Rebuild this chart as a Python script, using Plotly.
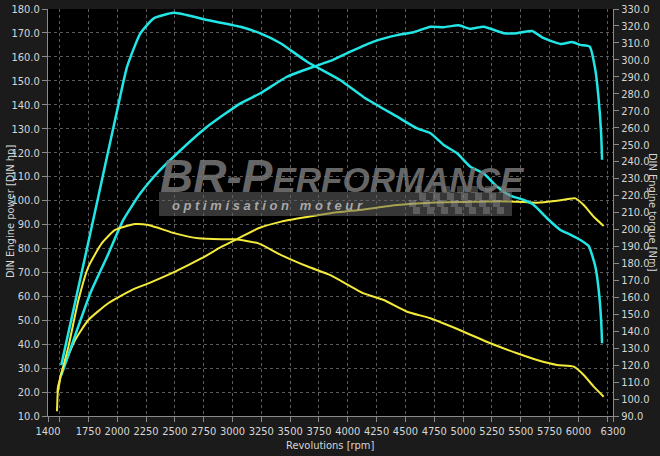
import plotly.graph_objects as go

# ---------------- data ----------------
tuned_torque_rpm = [1515, 1768, 1912, 1999, 2086, 2201, 2317, 2490, 2600, 2780, 3069, 3242, 3416, 3647,
                    3936, 4138, 4428, 4601, 4717, 4832, 4948, 5063, 5179, 5295, 5410, 5526, 5613,
                    5728, 5844, 5930, 6017, 6089, 6147, 6176, 6197, 6205]
tuned_torque_nm = [120, 198, 243, 270, 296, 315.6, 324.5, 327.8, 326.5, 323.5, 319.5, 315.6, 309.8, 298.9,
                   288, 278, 266.5, 259.6, 256.7, 249.8, 244.9, 237, 233, 225.2, 220, 217.4, 214.4,
                   206.6, 199.7, 197, 193.8, 190.2, 178, 164.3, 146.6, 132.9]

tuned_power_rpm = [1515, 1768, 1912, 2053, 2201, 2346, 2490, 2780, 3069, 3242, 3473, 3704, 3849, 4022,
                   4224, 4428, 4571, 4717, 4832, 4962, 5063, 5179, 5353, 5468, 5598, 5699, 5844,
                   5945, 6017, 6098, 6147, 6176, 6197, 6205]
tuned_power_hp = [27, 61.4, 76.5, 91.9, 103, 111.4, 118.3, 130.8, 140.6, 144.8, 151.7, 155.9, 158.3, 162.2,
                  166.4, 169.1, 170.3, 172.6, 172.4, 173.2, 171.7, 172.6, 169.9, 169.9, 170.8, 167.8, 165.4,
                  166.2, 165, 164.3, 154.5, 142, 128.1, 117]

stock_torque_rpm = [1482, 1487, 1577, 1664, 1750, 1866, 1982, 2155, 2271, 2502, 2704, 2906, 3022, 3225,
                    3423, 3658, 3849, 4138, 4311, 4514, 4716, 5005, 5237, 5468, 5642, 5815, 5960,
                    6046, 6133, 6219]
stock_torque_nm = [104, 107.3, 130.9, 158.4, 178, 191.8, 199.7, 203.2, 202.6, 197.7, 194.8, 194.2, 194.2, 191.8,
                   184.9, 178, 173.1, 162.3, 158.4, 151.5, 147.6, 139.7, 132.9, 127, 123, 120.1, 119.1,
                   114.2, 107.3, 101.4]

stock_power_rpm = [1478, 1485, 1500, 1515, 1635, 1750, 1923, 2126, 2271, 2502, 2733, 2906, 3051, 3225,
                   3423, 3658, 3849, 4138, 4428, 4717, 5005, 5295, 5526, 5642, 5815, 5974, 6046,
                   6133, 6219]
stock_power_hp = [12, 20, 24, 27.8, 41.7, 50.1, 57.1, 62.6, 65.4, 70.3, 75.9, 80.7, 84.2, 88.4,
                  91.2, 93.2, 94.7, 96.3, 98.1, 99.1, 99.4, 99.7, 99.4, 99.1, 99.9, 100.9, 98.1,
                  93.2, 89.4]

x_tickvals = [1400, 1500, 1750, 2000, 2250, 2500, 2750, 3000, 3250, 3500, 3750, 4000, 4250,
              4500, 4750, 5000, 5250, 5500, 5750, 6000, 6250, 6300]
x_ticktext = ["1400", "", "1750", "2000", "2250", "2500", "2750", "3000", "3250", "3500", "3750",
              "4000", "4250", "4500", "4750", "5000", "5250", "5500", "5750", "6000", "", "6300"]

# ---------------- styling ----------------
W, H = 660, 456
ML, MR, MT, MB = 48, 47, 9, 40
PW, PH = W - ML - MR, H - MT - MB
FONT = "Liberation Sans Narrow, DejaVu Sans Condensed, Roboto, sans-serif"
CYAN = "#22e6e6"
YELLOW = "#f4ea3a"
TXT = "#d6d6d6"
GRID = "#5a5a5a"


def px(x):
    return (x - ML) / PW


def py(y):
    return 1 - (y - MT) / PH


fig = go.Figure()
fig.add_trace(go.Scatter(x=stock_power_rpm, y=stock_power_hp, mode="lines",
                         line=dict(color=YELLOW, width=2, shape="spline", smoothing=0.5),
                         yaxis="y", hoverinfo="skip"))
fig.add_trace(go.Scatter(x=stock_torque_rpm, y=stock_torque_nm, mode="lines",
                         line=dict(color=YELLOW, width=2, shape="spline", smoothing=0.5),
                         yaxis="y2", hoverinfo="skip"))
fig.add_trace(go.Scatter(x=tuned_power_rpm, y=tuned_power_hp, mode="lines",
                         line=dict(color=CYAN, width=2.5, shape="spline", smoothing=0.5),
                         yaxis="y", hoverinfo="skip"))
fig.add_trace(go.Scatter(x=tuned_torque_rpm, y=tuned_torque_nm, mode="lines",
                         line=dict(color=CYAN, width=2.5, shape="spline", smoothing=0.5),
                         yaxis="y2", hoverinfo="skip"))

axis_common = dict(tickfont=dict(family=FONT, size=11, color=TXT), ticks="outside", ticklen=5,
                   tickcolor="#8a8a8a", linecolor="#8a8a8a", showline=True, zeroline=False,
                   automargin=False)

fig.update_layout(
    width=W, height=H,
    margin=dict(l=ML, r=MR, t=MT, b=MB, autoexpand=False),
    paper_bgcolor="#1b1b1b", plot_bgcolor="#000000",
    showlegend=False,
    xaxis=dict(range=[1400, 6300], tickvals=x_tickvals, ticktext=x_ticktext,
               showgrid=True, gridcolor=GRID, griddash="dot", gridwidth=1, **axis_common),
    yaxis=dict(range=[10, 180], dtick=10, tick0=10, tickformat=".1f",
               showgrid=True, gridcolor=GRID, griddash="dot", gridwidth=1, **axis_common),
    yaxis2=dict(range=[90, 330], dtick=10, tick0=90, tickformat=".1f", overlaying="y", side="right",
                showgrid=False, **axis_common),
)

# axis titles
fig.add_annotation(text="DIN Engine power [DIN hp]", xref="paper", yref="paper",
                   x=px(10), y=py(212), textangle=-90, showarrow=False,
                   xanchor="center", yanchor="middle",
                   font=dict(family=FONT, size=11, color=TXT))
fig.add_annotation(text="DIN Engine torque [Nm]", xref="paper", yref="paper",
                   x=px(653), y=py(212), textangle=90, showarrow=False,
                   xanchor="center", yanchor="middle",
                   font=dict(family=FONT, size=11, color=TXT))
fig.add_annotation(text="Revolutions [rpm]", xref="paper", yref="paper",
                   x=px(330), y=py(445), showarrow=False,
                   xanchor="center", yanchor="middle",
                   font=dict(family=FONT, size=11, color=TXT))

# watermark logo
fig.add_shape(type="rect", xref="paper", yref="paper", x0=px(159), x1=px(512), y0=py(216), y1=py(192),
              fillcolor="rgba(100,100,100,0.55)", line=dict(width=0), layer="above")
# checkered flag (decoration)
sq = 7
for r in range(4):
    for c in range(14):
        if (r + c) % 2 == 0:
            x0 = 415 + c * sq - r * 3
            y0 = 186 + r * sq
            fig.add_shape(type="rect", xref="paper", yref="paper",
                          x0=px(x0), x1=px(x0 + sq), y0=py(y0 + sq), y1=py(y0),
                          fillcolor="rgba(170,170,170,0.35)", line=dict(width=0), layer="above")
fig.add_annotation(text="<b><i>BR-P<span style='font-size:35px'>ERFORMANCE</span></i></b>",
                   xref="paper", yref="paper", x=px(158), y=py(176), xanchor="left", yanchor="middle",
                   showarrow=False, font=dict(family="Liberation Sans, Arial", size=46,
                                               color="rgba(120,120,120,0.85)"))
fig.add_annotation(text="<b><i>o p t i m i s a t i o n &nbsp; m o t e u r</i></b>",
                   xref="paper", yref="paper", x=px(170), y=py(205), xanchor="left", yanchor="middle",
                   showarrow=False, font=dict(family="Liberation Sans, Arial", size=13,
                                               color="rgba(190,190,190,0.85)"))

fig.write_html("out.html", config={"displayModeBar": False, "staticPlot": True},
               post_script="document.body.style.margin='0px';document.body.style.padding='0px';"
                           "document.body.style.background='#1b1b1b';")
